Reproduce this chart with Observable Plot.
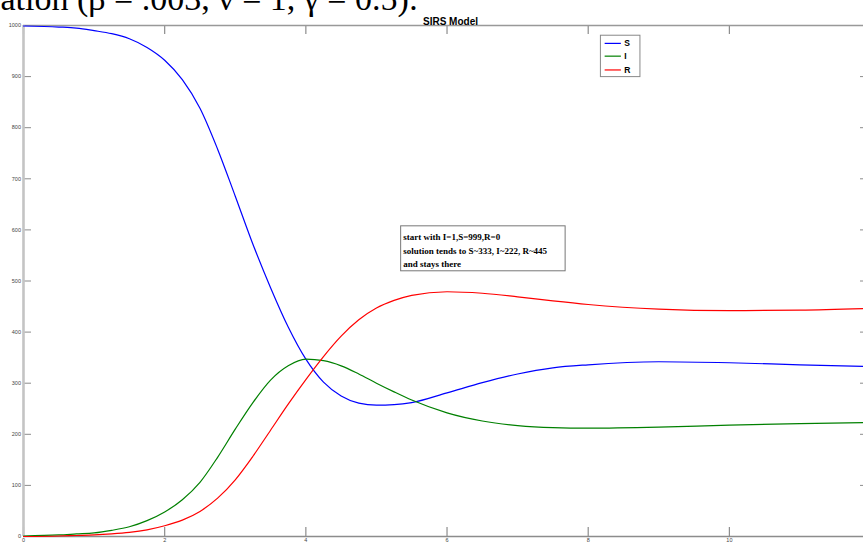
<!DOCTYPE html>
<html>
<head>
<meta charset="utf-8">
<script src="https://cdn.jsdelivr.net/npm/d3@7"></script>
<script src="https://cdn.jsdelivr.net/npm/@observablehq/plot@0.6"></script>
<style>
  html, body { margin: 0; padding: 0; background: #fff; overflow: hidden; }
  svg { display: block; }
</style>
</head>
<body>
<div id="chart"></div>
<script>
// ---- data ----
const time = [0, 0.5, 0.75, 1, 1.25, 1.5, 1.75, 2, 2.25, 2.5, 2.75, 3, 3.25, 3.5, 3.75, 4, 4.25, 4.5, 4.75, 5, 5.25, 5.5, 6, 6.5, 7, 7.5, 8, 9, 10, 11, 11.9];
const S = [999, 997, 995, 990, 984, 974, 957, 932, 894, 838, 758, 666, 572, 487, 410, 347, 302, 275, 261, 257, 258, 262, 281, 301, 318, 330, 336, 342, 340, 336, 333];
const I = [1, 3, 5, 7, 12, 19, 31, 48, 72, 106, 155, 210, 262, 306, 334, 347, 344, 334, 318, 300, 283, 267, 242, 226, 217, 213, 212, 214, 218, 221, 223];
const R = [0, 1, 2, 3, 5, 8, 13, 21, 32, 49, 75, 111, 157, 208, 259, 307, 352, 392, 424, 447, 462, 472, 479, 476, 469, 461, 454, 445, 442, 443, 446];
const seriesNames = ["S", "I", "R"];
const seriesColors = ["#0000ff", "#008000", "#ff0000"];
const xTicks = [0, 2, 4, 6, 8, 10];
const yTicks = [0, 100, 200, 300, 400, 500, 600, 700, 800, 900, 1000];
const chartTitle = "SIRS Model";
const headerText = "ation (β = .003, ν = 1, γ = 0.5):";
const noteLines = ["start with I=1,S=999,R=0", "solution tends to S~333, I~222, R~445", "and stays there"];

// ---- layout (annotation placement in data units) ----
const noteBox = {x1: 5.35, x2: 7.68, y1: 519, y2: 607};
const noteText = {x: 5.38, y: 562};
const legBox = {x1: 8.18, x2: 8.74, y1: 899, y2: 980};
const legLine = {x1: 8.24, x2: 8.47, ys: [965, 940, 913], labelX: 8.51};

const seriesValues = [S, I, R];
const rows = [];
seriesNames.forEach((name, k) => {
  time.forEach((t, i) => rows.push({series: name, t, v: seriesValues[k][i]}));
});
const legendRows = seriesNames.map((name, k) => ({series: name, y: legLine.ys[k]}));

const W = 863, H = 542, mL = 23, mR = 0, mT = 25, mB = 6;
const frameW = W - mL - mR, frameH = H - mT - mB;
const axisGrey = "#8c8c8c";

const plot = Plot.plot({
  width: W,
  height: H,
  marginLeft: mL,
  marginRight: mR,
  marginTop: mT,
  marginBottom: mB,
  style: {background: "#fff", overflow: "visible"},
  x: {domain: [0, 11.9]},
  y: {domain: [0, 1000]},
  color: {domain: seriesNames, range: seriesColors},
  marks: [
    // tick labels
    Plot.axisX(xTicks, {anchor: "bottom", tickSize: 0, tickPadding: 2, tickFormat: d3.format("d"), fontSize: 5.5, fill: "#444", fontFamily: "Liberation Sans, Arial, sans-serif"}),
    Plot.axisY(yTicks, {anchor: "left", tickSize: 0, tickPadding: 2.5, tickFormat: d3.format("d"), fontSize: 5.5, fill: "#444", fontFamily: "Liberation Sans, Arial, sans-serif"}),
    // inward ticks
    Plot.ruleX(xTicks, {stroke: axisGrey, strokeWidth: 1.2, insetTop: frameH - 9}),
    Plot.ruleX(xTicks, {stroke: axisGrey, strokeWidth: 1.2, insetBottom: frameH - 9}),
    Plot.ruleY(yTicks, {stroke: axisGrey, strokeWidth: 1, insetRight: frameW - 8}),
    Plot.ruleY(yTicks, {stroke: axisGrey, strokeWidth: 1, insetLeft: frameW - 3}),
    // frame
    Plot.ruleY([0], {stroke: axisGrey, strokeWidth: 1.6}),
    Plot.ruleY([1000], {stroke: "#999", strokeWidth: 1.4}),
    Plot.ruleX([0], {stroke: "#c4c4c4", strokeWidth: 2.6}),
    // curves
    Plot.line(rows, {x: "t", y: "v", z: "series", stroke: "series", strokeWidth: 1.2, curve: "monotone-x"}),
    // annotation box
    Plot.rect([noteBox], {x1: "x1", x2: "x2", y1: "y1", y2: "y2", fill: "#fff", stroke: "#777", strokeWidth: 1}),
    Plot.text([noteLines.join("\n")], {x: noteText.x, y: noteText.y, text: d => d, textAnchor: "start", lineAnchor: "middle", lineHeight: 1.52, fontSize: 9, fontWeight: "bold", fontFamily: "Liberation Serif, Times New Roman, serif", fill: "#000"}),
    // legend
    Plot.rect([legBox], {x1: "x1", x2: "x2", y1: "y1", y2: "y2", fill: "#fff", stroke: "#888", strokeWidth: 1}),
    Plot.ruleY(legendRows, {y: "y", x1: legLine.x1, x2: legLine.x2, stroke: "series", strokeWidth: 1.2}),
    Plot.text(legendRows, {y: "y", x: legLine.labelX, text: "series", textAnchor: "start", fontSize: 8.5, fontWeight: "bold", fontFamily: "Liberation Sans, Arial, sans-serif", fill: "#000"}),
    // title
    Plot.text([chartTitle], {frameAnchor: "top", dx: 7, dy: -8, text: d => d, fontSize: 10, fontWeight: "bold", fontFamily: "Liberation Sans, Arial, sans-serif", fill: "#000"}),
    // cut-off header text from the page above
    Plot.text([headerText], {frameAnchor: "top-left", dx: -mL, dy: -16, lineAnchor: "bottom", textAnchor: "start", text: d => d, fontSize: 34, fontFamily: "Liberation Serif, Times New Roman, serif", fill: "#000"})
  ]
});
document.getElementById("chart").appendChild(plot);
</script>
</body>
</html>
